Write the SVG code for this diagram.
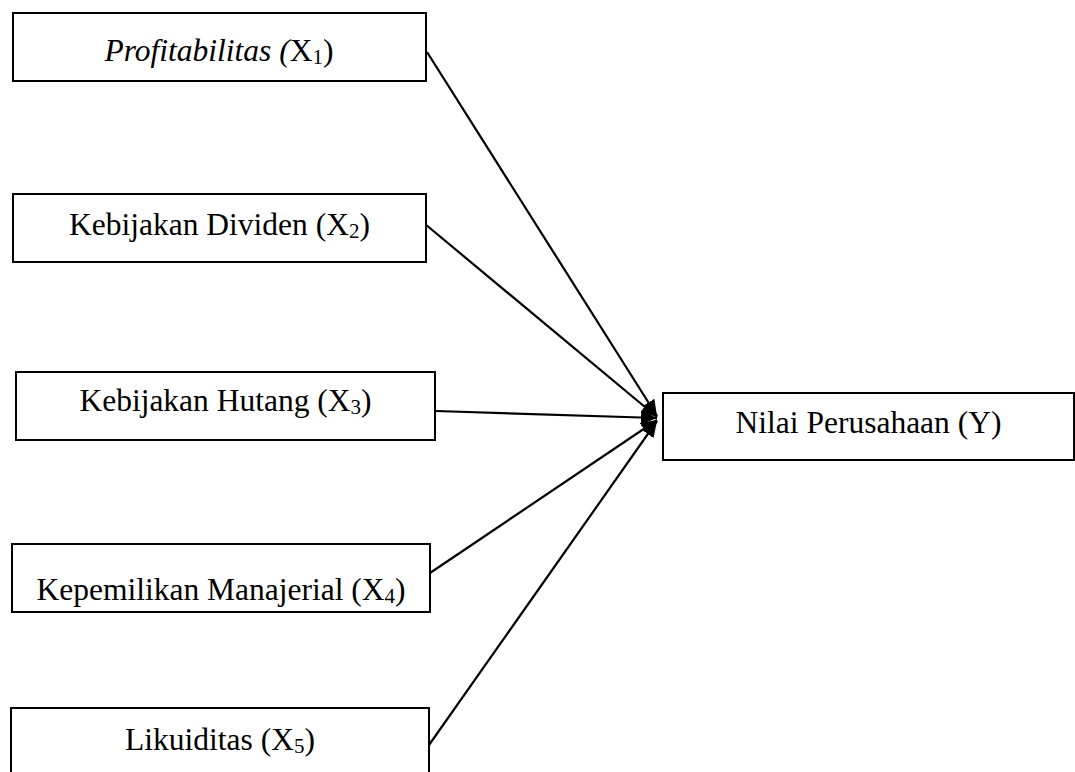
<svg xmlns="http://www.w3.org/2000/svg" width="1075" height="772" viewBox="0 0 1075 772">
<style>
.box{fill:#fff;stroke:#000;stroke-width:2}
.t{font-family:"Liberation Serif","Times New Roman",serif;font-size:31.5px;fill:#000;text-anchor:middle}
.sub{font-size:21px}
.c{stroke:#000;stroke-width:2.2;fill:none;marker-end:url(#ah)}
</style>
<defs>
<marker id="ah" markerUnits="userSpaceOnUse" markerWidth="18" markerHeight="14" refX="16" refY="7" orient="auto">
<path d="M0,0 L16,7 L0,14 Z" fill="#000"/>
</marker>
</defs>
<rect width="1075" height="772" fill="#fff"/>
<g id="connectors">
<line class="c" x1="427" y1="52" x2="657" y2="416"/>
<line class="c" x1="425" y1="224" x2="657" y2="417"/>
<line class="c" x1="436" y1="411" x2="657" y2="418"/>
<line class="c" x1="430" y1="573" x2="657" y2="420"/>
<line class="c" x1="429" y1="745" x2="657" y2="421"/>
</g>
<g id="x1">
<rect class="box" x="13" y="13" width="413" height="68"/>
<text class="t" x="219" y="61"><tspan font-style="italic">Profitabilitas (</tspan>X<tspan class="sub" dy="3">1</tspan><tspan dy="-3">)</tspan></text>
</g>
<g id="x2">
<rect class="box" x="13" y="194" width="413" height="68"/>
<text class="t" x="219.5" y="235">Kebijakan Dividen (X<tspan class="sub" dy="3">2</tspan><tspan dy="-3">)</tspan></text>
</g>
<g id="x3">
<rect class="box" x="16" y="372" width="419" height="68"/>
<text class="t" x="225.5" y="411">Kebijakan Hutang (X<tspan class="sub" dy="3">3</tspan><tspan dy="-3">)</tspan></text>
</g>
<g id="x4">
<rect class="box" x="12" y="544" width="418" height="68"/>
<text class="t" x="221" y="600">Kepemilikan Manajerial (X<tspan class="sub" dy="3">4</tspan><tspan dy="-3">)</tspan></text>
</g>
<g id="x5">
<rect class="box" x="11" y="708" width="418" height="72"/>
<text class="t" x="220" y="750">Likuiditas (X<tspan class="sub" dy="3">5</tspan><tspan dy="-3">)</tspan></text>
</g>
<g id="y">
<rect class="box" x="663" y="393" width="411" height="67"/>
<text class="t" x="868.5" y="433">Nilai Perusahaan (Y)</text>
</g>
</svg>
